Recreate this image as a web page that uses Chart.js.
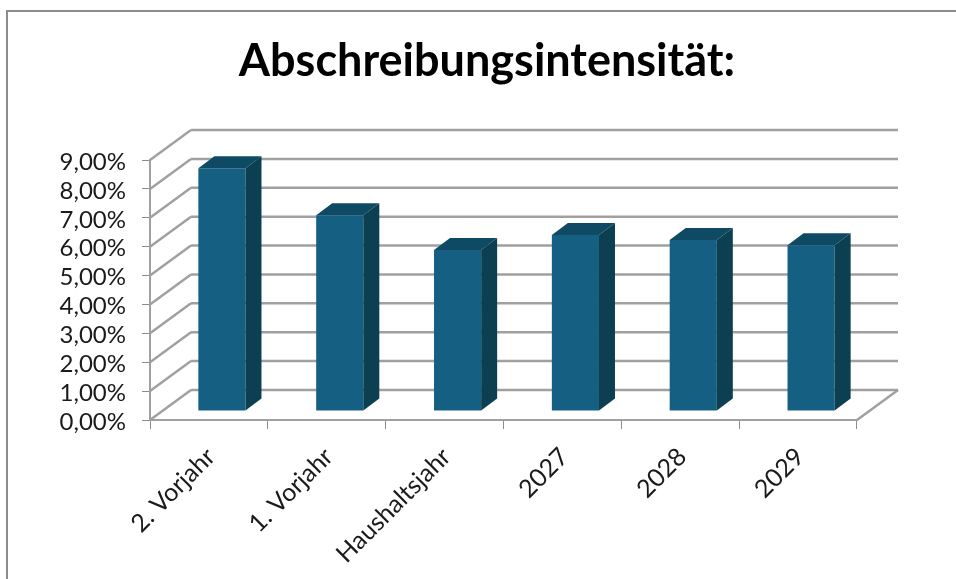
<!DOCTYPE html>
<html>
<head>
<meta charset="utf-8">
<title>Abschreibungsintensität</title>
<script src="https://cdn.jsdelivr.net/npm/chart.js@4"></script>
<style>
  html, body { margin: 0; padding: 0; background: #fff; }
  #wrap { position: relative; width: 956px; height: 579px; overflow: hidden; }
  #frame { position: absolute; left: 6px; top: 10px; width: 960px; height: 600px; border: 2px solid #8c8c8c; box-sizing: border-box; }
  canvas { position: absolute; left: 0; top: 0; }
</style>
</head>
<body>
<div id="wrap">
  <div id="frame"></div>
  <canvas id="chart" width="956" height="579"></canvas>
</div>
<script>
const categories = ['2. Vorjahr', '1. Vorjahr', 'Haushaltsjahr', '2027', '2028', '2029'];
const values = [8.4, 6.78, 5.57, 6.09, 5.92, 5.74];

const FONT = 'Lato, "Open Sans", sans-serif';
const GRID = '#a0a0a0';
const TEXT = '#1a1a1a';

// 3D look: wall depth, gap from front edge to bar, bar depth
const wall = { dx: 41, dy: -30 };
const gap = { dx: 13, dy: -9 };
const depth = { dx: 16, dy: -12 };

function line(ctx, x1, y1, x2, y2) {
  ctx.beginPath();
  ctx.moveTo(x1, y1);
  ctx.lineTo(x2, y2);
  ctx.stroke();
}

function face(ctx, color, pts) {
  ctx.fillStyle = color;
  ctx.beginPath();
  pts.forEach((p, i) => i ? ctx.lineTo(p[0], p[1]) : ctx.moveTo(p[0], p[1]));
  ctx.closePath();
  ctx.fill();
}

const walls = {
  id: 'walls',
  beforeDatasetsDraw(chart) {
    const { ctx, chartArea: a, scales: { y } } = chart;
    ctx.save();
    ctx.strokeStyle = GRID;
    ctx.lineWidth = 2.5;
    y.ticks.forEach(t => {
      const py = y.getPixelForValue(t.value);
      line(ctx, a.left, py, a.left + wall.dx, py + wall.dy);
      line(ctx, a.left + wall.dx, py + wall.dy, a.right + wall.dx, py + wall.dy);
    });
    line(ctx, a.right, a.bottom, a.right + wall.dx, a.bottom + wall.dy);
    ctx.restore();
  },
  beforeDatasetDraw(chart) {
    chart.ctx.save();
    chart.ctx.translate(gap.dx, gap.dy);
  },
  afterDatasetDraw(chart) {
    const ctx = chart.ctx;
    chart.getDatasetMeta(0).data.forEach(bar => {
      const r = bar.x + bar.width / 2, l = bar.x - bar.width / 2;
      face(ctx, '#0e4a63', [[l, bar.y], [r, bar.y], [r + depth.dx, bar.y + depth.dy], [l + depth.dx, bar.y + depth.dy]]);
      face(ctx, '#0d3f52', [[r, bar.y], [r + depth.dx, bar.y + depth.dy], [r + depth.dx, bar.base + depth.dy], [r, bar.base]]);
    });
    ctx.restore();
  }
};

new Chart(document.getElementById('chart'), {
  type: 'bar',
  data: {
    labels: categories,
    datasets: [{
      data: values,
      backgroundColor: '#156082',
      barPercentage: 0.4,
      categoryPercentage: 1,
      clip: false
    }]
  },
  options: {
    responsive: false,
    animation: false,
    layout: { padding: { left: 18, right: 0, top: 0, bottom: 0 } },
    plugins: {
      legend: { display: false },
      tooltip: { enabled: false },
      title: {
        display: true,
        text: 'Abschreibungsintensität:',
        color: '#000',
        font: { family: FONT, size: 45, weight: 'bold' },
        lineHeight: 1.2,
        padding: { top: 34, bottom: 72 }
      }
    },
    scales: {
      x: {
        afterFit: s => { s.height = 159; },
        border: { color: GRID, width: 2 },
        grid: { drawOnChartArea: false, tickLength: 9, tickColor: '#8c8c8c', lineWidth: 1 },
        ticks: {
          color: TEXT,
          font: { family: FONT, size: 25 },
          minRotation: 45,
          maxRotation: 45,
          labelOffset: 2,
          padding: 13
        }
      },
      y: {
        min: 0,
        max: 9,
        afterFit: s => { s.width = 132; },
        border: { color: GRID, width: 2 },
        grid: { drawOnChartArea: false, tickLength: 8, tickColor: '#8c8c8c', lineWidth: 1 },
        ticks: {
          color: TEXT,
          stepSize: 1,
          autoSkip: false,
          padding: 16,
          labelOffset: 2,
          font: { family: FONT, size: 24 },
          callback: v => v.toFixed(2).replace('.', ',') + '%'
        }
      },
      // empty right axis, only keeps the plot off the right edge
      spacer: {
        position: 'right',
        afterFit: s => { s.width = 99; },
        border: { display: false },
        grid: { display: false },
        ticks: { display: false }
      }
    }
  },
  plugins: [walls]
});
</script>
</body>
</html>
